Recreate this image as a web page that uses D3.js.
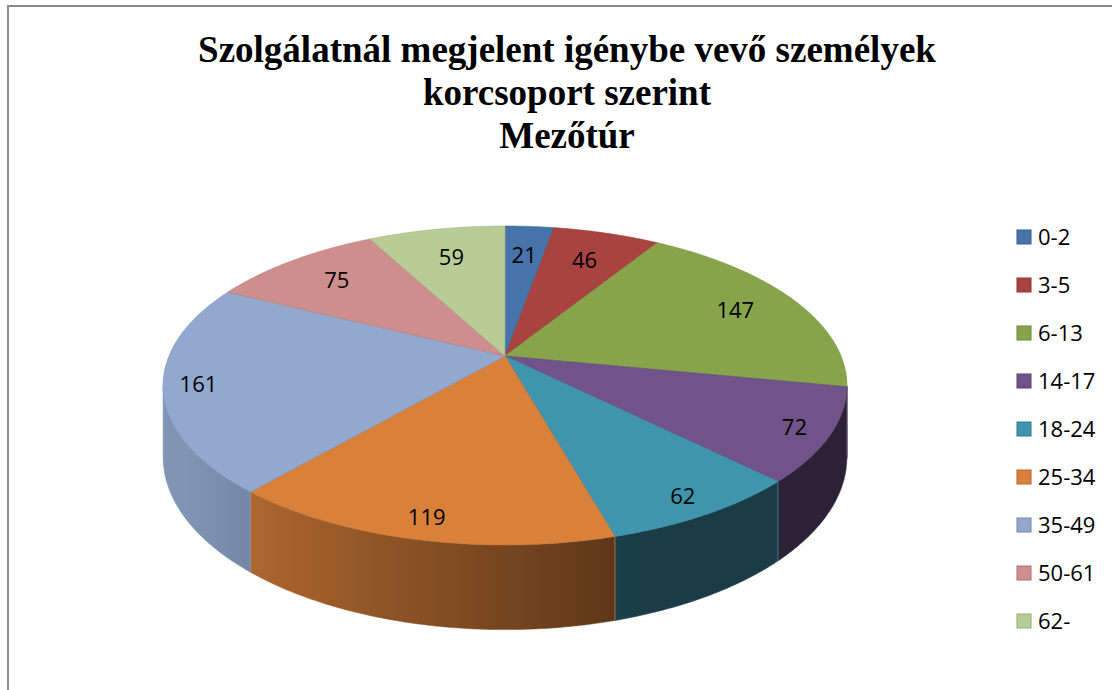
<!DOCTYPE html>
<html>
<head>
<meta charset="utf-8">
<script src="https://cdn.jsdelivr.net/npm/d3@7"></script>
<style>
  body { margin: 0; background: #fff; }
  svg { display: block; }
</style>
</head>
<body>
<svg id="chart" width="1112" height="690"></svg>
<script>
// data
const categories = ["0-2", "3-5", "6-13", "14-17", "18-24", "25-34", "35-49", "50-61", "62-"]
const values = [21, 46, 147, 72, 62, 119, 161, 75, 59]
const colors = ["#4673A9", "#A9433F", "#87A44B", "#705389", "#3F95AD", "#D9803A", "#92A8CE", "#CE8E8D", "#B8CD95"]
const titleLines = ["Szolgálatnál megjelent igénybe vevő személyek", "korcsoport szerint", "Mezőtúr"]

const svg = d3.select('#chart')
const defs = svg.append('defs')
const W = 1112, H = 690

// frame (only left + top visible in the picture)
svg.append('rect')
    .attr('x', 8).attr('y', 6)
    .attr('width', W).attr('height', H)
    .attr('fill', '#fff')
    .attr('stroke', '#898989')
    .attr('stroke-width', 2)

// title
svg.append('g').selectAll('text').data(titleLines)
    .join('text')
    .attr('x', 567)
    .attr('y', (d, i) => 62 + i * 43)
    .attr('text-anchor', 'middle')
    .style('font-family', '"Liberation Serif", "Times New Roman", serif')
    .style('font-weight', 'bold')
    .style('font-size', '37px')
    .attr('fill', '#000')
    .text(d => d)

// 3d pie projection: unit disk -> screen with a bit of perspective
const cx = 505, cy = 356, A = 336, B = 154, k = 0.185, depth = 69

function proj(r, a) {
    const u = r * Math.sin(a), v = -r * Math.cos(a)
    const s = 1 / (1 - k * v)
    return [cx + A * u * s, cy + B * v * s]
}
function drop(a) {
    return depth / (1 + k * Math.cos(a))
}

const pie = d3.pie().sort(null).value(d => d)
const arcs = pie(values)
const line = d3.line()

// visible outer wall: where the wall faces the viewer
const visLo = Math.acos(-k), visHi = 2 * Math.PI - Math.acos(-k)
const step = Math.PI / 360

function shade(c, a) {
    const f = Math.max(0.4, Math.min(0.88, 0.54 - 0.4 * Math.sin(a)))
    const col = d3.rgb(c)
    return d3.rgb(col.r * f, col.g * f, col.b * f).formatHex()
}

const sideG = svg.append('g')
arcs.forEach((d, i) => {
    const a0 = Math.max(d.startAngle, visLo), a1 = Math.min(d.endAngle, visHi)
    if (a1 <= a0) return
    const angs = []
    const n = Math.max(2, Math.ceil((a1 - a0) / step))
    for (let j = 0; j <= n; j++) angs.push(a0 + (a1 - a0) * j / n)
    const top = angs.map(a => proj(1, a))
    const bot = angs.map(a => { const p = proj(1, a); return [p[0], p[1] + drop(a)] }).reverse()

    // gradient along screen x (x falls as the angle grows on the front half)
    const xs = top.map(p => p[0])
    const xMin = d3.min(xs), xMax = d3.max(xs)
    const gid = 'side' + i
    const grad = defs.append('linearGradient')
        .attr('id', gid)
        .attr('gradientUnits', 'userSpaceOnUse')
        .attr('x1', xMin).attr('x2', xMax).attr('y1', 0).attr('y2', 0)
    const stops = angs.filter((a, j) => j % 6 == 0 || j == angs.length - 1)
        .map(a => ({ off: (proj(1, a)[0] - xMin) / Math.max(1, xMax - xMin), col: shade(colors[i], a) }))
        .sort((p, q) => p.off - q.off)
    grad.selectAll('stop').data(stops)
        .join('stop')
        .attr('offset', s => s.off)
        .attr('stop-color', s => s.col)

    sideG.append('path')
        .attr('d', line(top.concat(bot)) + 'Z')
        .attr('fill', `url(#${gid})`)
        .attr('stroke', `url(#${gid})`)
        .attr('stroke-width', 0.5)

    // edge line where slice wall starts/ends
    ;[d.startAngle, d.endAngle].forEach(a => {
        if (a < visLo || a > visHi) return
        const p = proj(1, a)
        sideG.append('line')
            .attr('x1', p[0]).attr('y1', p[1])
            .attr('x2', p[0]).attr('y2', p[1] + drop(a))
            .attr('stroke', d3.rgb(colors[i]).darker(0.3))
            .attr('stroke-opacity', 0.7)
            .attr('stroke-width', 1)
    })
})

// top faces
const topG = svg.append('g')
topG.selectAll('path').data(arcs)
    .join('path')
    .attr('d', d => {
        const pts = [[cx, cy]]
        const n = Math.max(2, Math.ceil((d.endAngle - d.startAngle) / step))
        for (let j = 0; j <= n; j++) pts.push(proj(1, d.startAngle + (d.endAngle - d.startAngle) * j / n))
        return line(pts) + 'Z'
    })
    .attr('fill', (d, i) => colors[i])
    .attr('stroke', (d, i) => d3.rgb(colors[i]).darker(0.35))
    .attr('stroke-opacity', 0.6)
    .attr('stroke-width', 1)

// value labels
svg.append('g').selectAll('text').data(arcs)
    .join('text')
    .attr('transform', d => {
        const m = (d.startAngle + d.endAngle) / 2
        const v = -Math.cos(m)
        const r = v < 0 ? 0.82 + 0.07 * v : 0.9
        const p = proj(r, m)
        return `translate(${p[0]},${p[1]})`
    })
    .attr('text-anchor', 'middle')
    .attr('dy', '0.35em')
    .style('font-family', '"Open Sans", sans-serif')
    .style('font-size', '22px')
    .attr('fill', '#000')
    .text(d => d.data)

// legend
const legend = svg.append('g').attr('transform', 'translate(1017, 237)')
const item = legend.selectAll('g').data(categories)
    .join('g')
    .attr('transform', (d, i) => `translate(0, ${i * 48})`)
item.append('rect')
    .attr('x', 0).attr('y', -7)
    .attr('width', 14).attr('height', 14)
    .attr('fill', (d, i) => colors[i])
    .attr('stroke', (d, i) => d3.rgb(colors[i]).darker(0.6))
    .attr('stroke-width', 1)
item.append('text')
    .attr('x', 21)
    .attr('dy', '0.35em')
    .style('font-family', '"Open Sans", sans-serif')
    .style('font-size', '22px')
    .attr('fill', '#000')
    .text(d => d)
</script>
</body>
</html>
